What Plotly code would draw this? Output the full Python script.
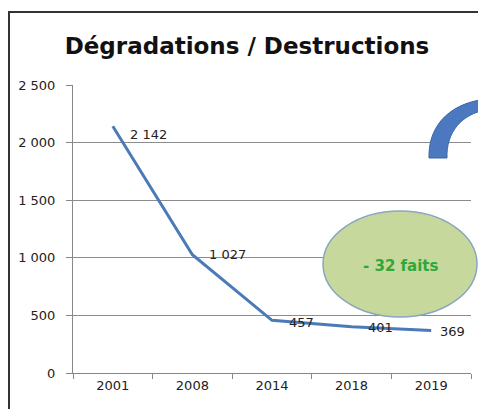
import plotly.graph_objects as go

years = ["2001", "2008", "2014", "2018", "2019"]
values = [2142, 1027, 457, 401, 369]
labels = ["2 142", "1 027", "457", "401", "369"]
title = "Dégradations / Destructions"
badge = "- 32 faits"

# label offsets (style only)
label_xshift = [15, 15, 15, 14, 7]
label_yshift = [-8, 0, -2, -1, -1]

# page is offset by the 8px body margin
OX, OY = 8, 8
PW, PH = 486, 409
W, H = PW - OX, PH - OY
PL, PR, PT, PB = 73, 471, 85, 373   # plot area in page pixels
L, R, T, B = PL - OX, PW - PR, PT - OY, PH - PB
pw, ph = PR - PL, PB - PT

def px(x):
    return (x - PL) / pw

def py(y):
    return (PB - y) / ph

FONT = "DejaVu Sans, Open Sans, sans-serif"

fig = go.Figure()
fig.add_trace(go.Scatter(
    x=years, y=values, mode="lines",
    line=dict(color="#4a7ab8", width=3),
    hoverinfo="skip", showlegend=False,
))

for i, (v, t) in enumerate(zip(values, labels)):
    fig.add_annotation(x=i, y=v, xref="x", yref="y", text=t, showarrow=False, xanchor="left",
                       xshift=label_xshift[i], yshift=label_yshift[i],
                       font=dict(family=FONT, size=13, color="#222"))

shapes = []
shapes.append(dict(type="rect", xref="paper", yref="paper",
                   x0=px(9), x1=px(495), y0=py(12), y1=py(420),
                   line=dict(color="#333", width=2), layer="below"))
shapes.append(dict(type="circle", xref="paper", yref="paper",
                   x0=px(323), x1=px(477), y0=py(317), y1=py(211),
                   fillcolor="#c6d89c", line=dict(color="#8aa6bf", width=1.5),
                   layer="above"))

def P(x, y):
    return f"{px(x):.4f},{py(y):.4f}"

arc = ("M " + P(429, 158) + " C " + P(428, 130) + " " + P(445, 104) + " " + P(486, 99)
       + " L " + P(486, 110) + " C " + P(462, 114) + " " + P(446, 132) + " " + P(447, 158) + " Z")
shapes.append(dict(type="path", xref="paper", yref="paper", path=arc,
                   fillcolor="#4b78bf", line=dict(color="#3d67a8", width=1), layer="above"))

fig.add_annotation(xref="paper", yref="paper", x=px(401), y=py(266), text="<b>" + badge + "</b>",
                   xanchor="center", yanchor="middle",
                   showarrow=False, font=dict(family=FONT, size=15, color="#2ea83a"))

fig.update_layout(
    width=W, height=H,
    margin=dict(l=L, r=R, t=T, b=B, autoexpand=False),
    paper_bgcolor="white", plot_bgcolor="white",
    separators=", ",
    title=dict(text="<b>" + title + "</b>", x=(247 - OX) / W, xanchor="center",
               y=1 - (46 - OY) / H, yanchor="middle",
               font=dict(family=FONT, size=23, color="#111")),
    shapes=shapes,
    xaxis=dict(type="category", showgrid=False, showline=True, linecolor="#888", linewidth=1,
               ticks="outside", ticklen=5, tickcolor="#888", tickson="boundaries",
               tickfont=dict(family=FONT, size=13, color="#222"),
               range=[-0.5, 4.5], fixedrange=True),
    yaxis=dict(range=[0, 2500], tickvals=[0, 500, 1000, 1500, 2000, 2500], tickformat=",d",
               showgrid=True, gridcolor="#8c8c8c", gridwidth=1, zeroline=False,
               showline=True, linecolor="#888", linewidth=1, ticks="outside", ticklen=6, tickcolor="#888",
               ticklabelstandoff=8,
               tickfont=dict(family=FONT, size=13, color="#222"),
               fixedrange=True),
)

fig.write_html("out.html")
